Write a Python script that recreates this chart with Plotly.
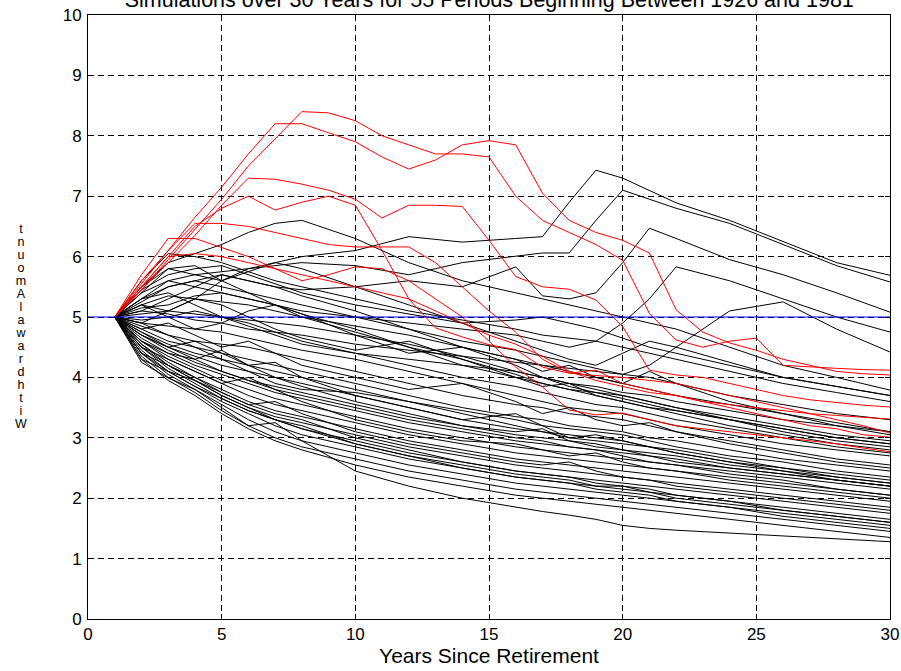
import plotly.graph_objects as go

TITLE = "Simulations over 30 Years for 55 Periods Beginning Between 1926 and 1981"
XLABEL = "Years Since Retirement"
YLABEL = "Withdrawal Amount"
BASELINE = 5.0
X_TICKS = [0, 5, 10, 15, 20, 25, 30]
Y_TICKS = [0, 1, 2, 3, 4, 5, 6, 7, 8, 9, 10]

# yearly values (years 1..30) for the highlighted (red) periods
YEARS_RED = list(range(1, 31))
RED = [
    [5.0, 5.45, 5.95, 6.45, 6.95, 7.5, 7.95, 8.4, 8.38, 8.25, 8.0, 7.85, 7.7, 7.7, 7.65, 7.0, 6.6, 6.4, 6.2, 5.94, 5.06, 4.62, 4.5, 4.6, 4.65, 4.2, 4.17, 4.15, 4.13, 4.12],
    [5.0, 5.55, 6.1, 6.65, 7.15, 7.7, 8.2, 8.2, 8.05, 7.9, 7.65, 7.45, 7.6, 7.85, 7.92, 7.85, 7.05, 6.6, 6.4, 6.27, 6.06, 5.12, 4.75, 4.57, 4.45, 4.3, 4.2, 4.1, 4.06, 4.04],
    [5.0, 5.45, 5.9, 6.35, 6.85, 7.3, 7.28, 7.2, 7.1, 6.95, 6.64, 6.85, 6.85, 6.83, 6.27, 5.67, 5.5, 5.46, 5.28, 4.84, 4.12, 4.04, 4.0, 3.9, 3.8, 3.7, 3.63, 3.58, 3.54, 3.51],
    [5.0, 5.5, 6.0, 6.5, 6.8, 7.0, 6.77, 6.9, 7.0, 6.85, 6.1, 5.3, 4.82, 4.67, 4.54, 4.46, 4.17, 4.07, 4.03, 4.0, 3.95, 3.9, 3.8, 3.7, 3.6, 3.5, 3.4, 3.3, 3.2, 3.08],
    [5.0, 5.6, 6.1, 6.55, 6.55, 6.5, 6.4, 6.3, 6.2, 6.16, 6.16, 6.16, 5.9, 5.5, 5.1, 4.75, 4.3, 4.07, 4.12, 3.9, 3.8, 3.7, 3.6, 3.5, 3.4, 3.3, 3.2, 3.15, 3.05, 3.01],
    [5.0, 5.7, 6.3, 6.3, 6.15, 6.0, 5.8, 5.6, 5.7, 5.83, 5.8, 5.6, 5.3, 5.0, 4.6, 4.17, 3.84, 3.46, 3.38, 3.41, 3.3, 3.2, 3.15, 3.1, 3.05, 3.0, 2.95, 2.9, 2.83, 2.77],
    [5.0, 5.5, 6.0, 6.05, 6.0, 5.9, 5.8, 5.7, 5.6, 5.5, 5.4, 5.3, 5.1, 4.9, 4.7, 4.55, 4.35, 4.1, 3.95, 3.85, 3.75, 3.7, 3.6, 3.55, 3.5, 3.45, 3.4, 3.37, 3.34, 3.31],
]

# values at selected years for the other (black) periods
YEARS_BLACK = [1, 2, 3, 4, 5, 6, 7, 8, 10, 12, 14, 16, 17, 18, 19, 20, 21, 22, 24, 26, 28, 30]
BLACK = [
    [5.0, 5.5, 5.8, 5.7, 5.6, 5.75, 5.9, 6.0, 6.1, 6.33, 6.24, 6.3, 6.33, 6.9, 7.43, 7.3, 7.1, 6.89, 6.6, 6.25, 5.9, 5.69],
    [5.0, 5.3, 5.6, 5.7, 5.75, 5.8, 5.85, 5.9, 5.85, 5.7, 5.9, 6.0, 6.06, 6.06, 6.6, 7.1, 6.95, 6.8, 6.55, 6.2, 5.85, 5.58],
    [5.0, 5.25, 5.5, 5.6, 5.7, 5.6, 5.5, 5.45, 5.5, 5.6, 5.5, 5.83, 5.35, 5.3, 5.4, 5.9, 6.47, 6.3, 5.95, 5.7, 5.4, 5.08],
    [5.0, 5.5, 5.9, 6.05, 6.2, 6.4, 6.55, 6.6, 6.3, 5.9, 5.6, 5.4, 5.3, 5.2, 5.1, 5.0, 4.9, 4.8, 4.5, 4.2, 4.0, 3.79],
    [5.0, 5.1, 5.05, 4.95, 4.9, 4.8, 4.75, 4.7, 4.55, 4.45, 4.35, 4.25, 4.2, 4.15, 4.1, 4.05, 4.2, 4.5, 5.1, 5.25, 4.8, 4.42],
    [5.0, 5.4, 5.6, 5.5, 5.4, 5.3, 5.2, 5.1, 5.0, 4.9, 4.8, 4.7, 4.6, 4.5, 4.6, 4.9, 5.3, 5.83, 5.6, 5.3, 5.0, 4.75],
    [5.0, 5.6, 6.05, 6.0, 5.9, 5.75, 5.6, 5.5, 5.3, 5.1, 4.95, 4.8, 4.7, 4.65, 4.6, 4.5, 4.4, 4.3, 4.1, 3.9, 3.75, 3.6],
    [5.0, 5.45, 5.7, 5.8, 5.85, 5.7, 5.55, 5.4, 5.2, 5.05, 4.9, 4.95, 5.0, 4.9, 4.8, 4.65, 4.5, 4.4, 4.2, 4.0, 3.85, 3.7],
    [5.0, 5.3, 5.5, 5.6, 5.5, 5.4, 5.3, 5.2, 5.0, 4.8, 4.6, 4.45, 4.35, 4.25, 4.15, 4.05, 4.0, 3.9, 3.7, 3.55, 3.4, 3.3],
    [5.0, 5.2, 5.35, 5.3, 5.25, 5.2, 5.1, 5.0, 4.85, 4.7, 4.5, 4.3, 4.2, 4.1, 4.0, 3.9, 3.8, 3.7, 3.55, 3.4, 3.25, 3.1],
    [5.0, 5.15, 5.2, 5.35, 5.4, 5.3, 5.2, 5.05, 4.8, 4.5, 4.2, 4.0, 3.9, 3.8, 3.75, 3.7, 3.6, 3.5, 3.3, 3.15, 3.0, 2.9],
    [5.0, 5.05, 5.1, 5.05, 5.0, 4.95, 4.9, 4.85, 4.7, 4.55, 4.35, 4.1, 4.0, 3.9, 3.8, 3.7, 3.6, 3.5, 3.35, 3.2, 3.05, 2.95],
    [5.0, 4.95, 5.0, 5.1, 5.0, 4.9, 4.75, 4.6, 4.4, 4.2, 4.0, 3.85, 3.75, 3.65, 3.55, 3.5, 3.4, 3.3, 3.15, 3.0, 2.85, 2.75],
    [5.0, 4.9, 4.85, 4.8, 4.75, 4.65, 4.55, 4.45, 4.3, 4.1, 3.9, 3.7, 3.6, 3.5, 3.45, 3.4, 3.3, 3.2, 3.05, 2.9, 2.8, 2.7],
    [5.0, 4.85, 4.7, 4.6, 4.55, 4.5, 4.4, 4.3, 4.1, 3.9, 3.7, 3.55, 3.5, 3.4, 3.35, 3.3, 3.2, 3.1, 2.95, 2.8, 2.65, 2.55],
    [5.0, 4.8, 4.6, 4.5, 4.4, 4.3, 4.2, 4.1, 3.9, 3.7, 3.5, 3.35, 3.3, 3.2, 3.15, 3.1, 3.0, 2.95, 2.8, 2.65, 2.55, 2.45],
    [5.0, 4.75, 4.55, 4.4, 4.3, 4.2, 4.1, 4.0, 3.8, 3.6, 3.45, 3.3, 3.2, 3.15, 3.1, 3.05, 2.95, 2.85, 2.7, 2.6, 2.45, 2.35],
    [5.0, 4.7, 4.5, 4.35, 4.2, 4.1, 4.0, 3.9, 3.7, 3.5, 3.3, 3.15, 3.1, 3.0, 2.95, 2.9, 2.85, 2.8, 2.65, 2.5, 2.4, 2.3],
    [5.0, 4.7, 4.45, 4.25, 4.1, 3.95, 3.85, 3.75, 3.55, 3.35, 3.2, 3.05, 3.0, 2.95, 2.9, 2.8, 2.75, 2.7, 2.55, 2.45, 2.35, 2.25],
    [5.0, 4.65, 4.4, 4.2, 4.05, 3.9, 3.75, 3.65, 3.45, 3.25, 3.1, 2.95, 2.9, 2.85, 2.8, 2.75, 2.7, 2.6, 2.5, 2.4, 2.3, 2.2],
    [5.0, 4.6, 4.35, 4.15, 3.95, 3.8, 3.65, 3.55, 3.35, 3.15, 3.0, 2.85, 2.8, 2.75, 2.7, 2.65, 2.6, 2.55, 2.45, 2.35, 2.25, 2.15],
    [5.0, 4.6, 4.3, 4.1, 3.9, 3.7, 3.55, 3.45, 3.25, 3.05, 2.9, 2.75, 2.7, 2.65, 2.6, 2.55, 2.5, 2.45, 2.35, 2.25, 2.15, 2.05],
    [5.0, 4.55, 4.25, 4.0, 3.8, 3.6, 3.45, 3.35, 3.15, 2.95, 2.8, 2.65, 2.6, 2.55, 2.5, 2.45, 2.4, 2.35, 2.25, 2.15, 2.05, 1.95],
    [5.0, 4.55, 4.2, 3.95, 3.7, 3.5, 3.35, 3.25, 3.05, 2.85, 2.7, 2.55, 2.5, 2.45, 2.4, 2.35, 2.3, 2.25, 2.15, 2.05, 1.95, 1.85],
    [5.0, 4.5, 4.15, 3.9, 3.65, 3.45, 3.3, 3.15, 2.95, 2.75, 2.6, 2.45, 2.4, 2.35, 2.3, 2.25, 2.2, 2.15, 2.05, 1.95, 1.85, 1.75],
    [5.0, 4.45, 4.1, 3.85, 3.6, 3.4, 3.2, 3.05, 2.85, 2.65, 2.5, 2.35, 2.3, 2.25, 2.2, 2.15, 2.1, 2.05, 1.95, 1.85, 1.75, 1.65],
    [5.0, 4.4, 4.05, 3.8, 3.55, 3.3, 3.1, 2.95, 2.75, 2.55, 2.4, 2.25, 2.2, 2.15, 2.1, 2.05, 2.0, 1.95, 1.85, 1.75, 1.65, 1.55],
    [5.0, 4.35, 4.0, 3.75, 3.45, 3.2, 3.0, 2.85, 2.65, 2.45, 2.3, 2.15, 2.1, 2.05, 2.0, 1.95, 1.9, 1.85, 1.75, 1.65, 1.55, 1.45],
    [5.0, 4.25, 3.99, 3.8, 3.5, 3.2, 3.25, 2.95, 2.45, 2.2, 2.0, 1.85, 1.78, 1.72, 1.65, 1.55, 1.5, 1.47, 1.42, 1.37, 1.33, 1.28],
    [5.0, 4.3, 3.95, 3.7, 3.4, 3.15, 2.95, 2.8, 2.55, 2.35, 2.2, 2.05, 2.0, 1.95, 1.9, 1.85, 1.8, 1.75, 1.65, 1.55, 1.45, 1.35],
    [5.0, 5.2, 5.0, 4.8, 4.9, 5.1, 5.2, 5.05, 4.7, 4.4, 4.5, 4.3, 4.1, 4.2, 4.0, 3.9, 4.1, 3.9, 3.6, 3.4, 3.2, 3.05],
    [5.0, 4.9, 5.1, 5.3, 5.2, 5.0, 4.8, 4.65, 4.45, 4.6, 4.3, 4.0, 3.85, 3.9, 3.7, 3.6, 3.5, 3.45, 3.3, 3.1, 2.95, 2.85],
    [5.0, 4.8, 4.9, 4.7, 4.5, 4.6, 4.4, 4.2, 4.0, 3.8, 3.9, 3.6, 3.4, 3.5, 3.3, 3.2, 3.25, 3.1, 2.9, 2.75, 2.6, 2.5],
    [5.0, 4.7, 4.5, 4.6, 4.4, 4.2, 4.25, 4.0, 3.7, 3.5, 3.3, 3.4, 3.2, 3.0, 3.05, 2.95, 2.85, 2.75, 2.6, 2.5, 2.35, 2.25],
    [5.0, 4.6, 4.4, 4.3, 4.45, 4.2, 4.0, 3.85, 3.6, 3.4, 3.2, 3.1, 3.15, 2.95, 2.85, 2.8, 2.7, 2.65, 2.5, 2.4, 2.3, 2.2],
    [5.0, 4.5, 4.3, 4.1, 3.9, 4.0, 3.8, 3.6, 3.3, 3.1, 2.95, 2.9, 2.8, 2.7, 2.75, 2.6, 2.5, 2.45, 2.3, 2.2, 2.1, 2.0],
    [5.0, 4.4, 4.2, 4.0, 3.75, 3.55, 3.6, 3.4, 3.1, 2.9, 2.75, 2.6, 2.55, 2.6, 2.45, 2.35, 2.3, 2.2, 2.1, 2.0, 1.9, 1.8],
    [5.0, 4.3, 4.1, 3.95, 3.7, 3.5, 3.3, 3.2, 2.9, 2.7, 2.55, 2.4, 2.35, 2.3, 2.2, 2.2, 2.1, 2.0, 1.9, 1.8, 1.7, 1.6],
    [5.0, 5.3, 5.4, 5.2, 5.0, 4.85, 4.7, 4.55, 4.4, 4.3, 4.2, 4.1, 4.0, 3.9, 3.85, 3.75, 3.7, 3.6, 3.45, 3.3, 3.2, 3.1],
    [5.0, 5.1, 5.3, 5.5, 5.7, 5.6, 5.5, 5.35, 5.1, 4.8, 4.5, 4.2, 4.0, 3.85, 3.75, 3.65, 3.55, 3.45, 3.3, 3.15, 3.0, 2.9],
    [5.0, 5.4, 5.8, 5.85, 5.6, 5.4, 5.2, 5.0, 4.75, 4.5, 4.3, 4.05, 3.9, 3.8, 3.7, 3.6, 3.5, 3.4, 3.2, 3.05, 2.9, 2.8],
    [5.0, 5.2, 5.1, 5.3, 5.6, 5.8, 5.9, 5.8, 5.5, 5.2, 4.9, 4.6, 4.45, 4.3, 4.2, 4.4, 4.6, 4.5, 4.25, 4.0, 3.85, 3.7],
    [5.0, 4.9, 4.7, 4.5, 4.3, 4.1, 3.9, 3.8, 3.75, 3.6, 3.4, 3.2, 3.1, 3.05, 3.0, 2.95, 2.85, 2.75, 2.6, 2.45, 2.3, 2.2],
    [5.0, 4.75, 4.5, 4.3, 4.1, 3.95, 3.8, 3.7, 3.5, 3.3, 3.15, 3.0, 2.95, 2.85, 2.8, 2.7, 2.6, 2.55, 2.4, 2.3, 2.15, 2.05],
    [5.0, 4.4, 4.1, 3.85, 3.65, 3.45, 3.3, 3.15, 2.9, 2.7, 2.5, 2.35, 2.3, 2.25, 2.15, 2.1, 2.05, 1.95, 1.85, 1.7, 1.6, 1.5],
    [5.0, 4.5, 4.2, 3.95, 3.75, 3.55, 3.4, 3.3, 3.0, 2.8, 2.6, 2.45, 2.4, 2.35, 2.25, 2.2, 2.15, 2.05, 1.95, 1.8, 1.7, 1.6],
]

FONT = "Liberation Sans, Arial, sans-serif"
W, H = 901, 671
ML, MR, MT, MB = 88, 11, 15, 52

fig = go.Figure()
for ys in BLACK:
    fig.add_trace(go.Scatter(x=YEARS_BLACK, y=ys, mode="lines",
                             line=dict(color="black", width=1), hoverinfo="skip"))
for ys in RED:
    fig.add_trace(go.Scatter(x=YEARS_RED, y=ys, mode="lines",
                             line=dict(color="#ff0000", width=1), hoverinfo="skip"))
fig.add_trace(go.Scatter(x=[X_TICKS[0], X_TICKS[-1]], y=[BASELINE, BASELINE], mode="lines",
                         line=dict(color="#0000ff", width=1), hoverinfo="skip"))

axis_common = dict(showline=True, linecolor="black", linewidth=1, mirror="ticks",
                   ticks="inside", ticklen=5, tickcolor="black", automargin=False,
                   showgrid=True, gridcolor="black", gridwidth=1, griddash="6px,4px",
                   zeroline=False, tickfont=dict(family=FONT, size=17, color="black"))

fig.update_xaxes(range=[0, 30], tickvals=X_TICKS, **axis_common,
                 title=dict(text=XLABEL, font=dict(family=FONT, size=21, color="black"), standoff=0))
fig.update_yaxes(range=[0, 10], tickvals=Y_TICKS, ticklabelstandoff=2, **axis_common)

# stacked y label, letters reading upward (as in the reference), one text block
letters = list(YLABEL.replace(" ", ""))
stacked = "<br>".join('<span style="font-size:12.5px">%s</span>' % ch for ch in reversed(letters))
plot_h = H - MT - MB
fig.add_annotation(text=stacked, xref="paper", yref="paper",
                   x=(21 - ML) / (W - ML - MR), y=(H - MB - 326) / plot_h,
                   xanchor="center", yanchor="middle", showarrow=False,
                   font=dict(family=FONT, size=10, color="black"))

fig.update_layout(
    width=W, height=H,
    margin=dict(l=ML, r=MR, t=MT, b=MB),
    paper_bgcolor="white", plot_bgcolor="white",
    showlegend=False,
    title=dict(text=TITLE, x=0.543, xanchor="center", y=1 - 7 / H, yanchor="bottom",
               font=dict(family=FONT, size=21.5, color="black")),
)

fig.write_html("out.html", config={"displayModeBar": False},
               post_script="document.body.style.margin='0px';")
